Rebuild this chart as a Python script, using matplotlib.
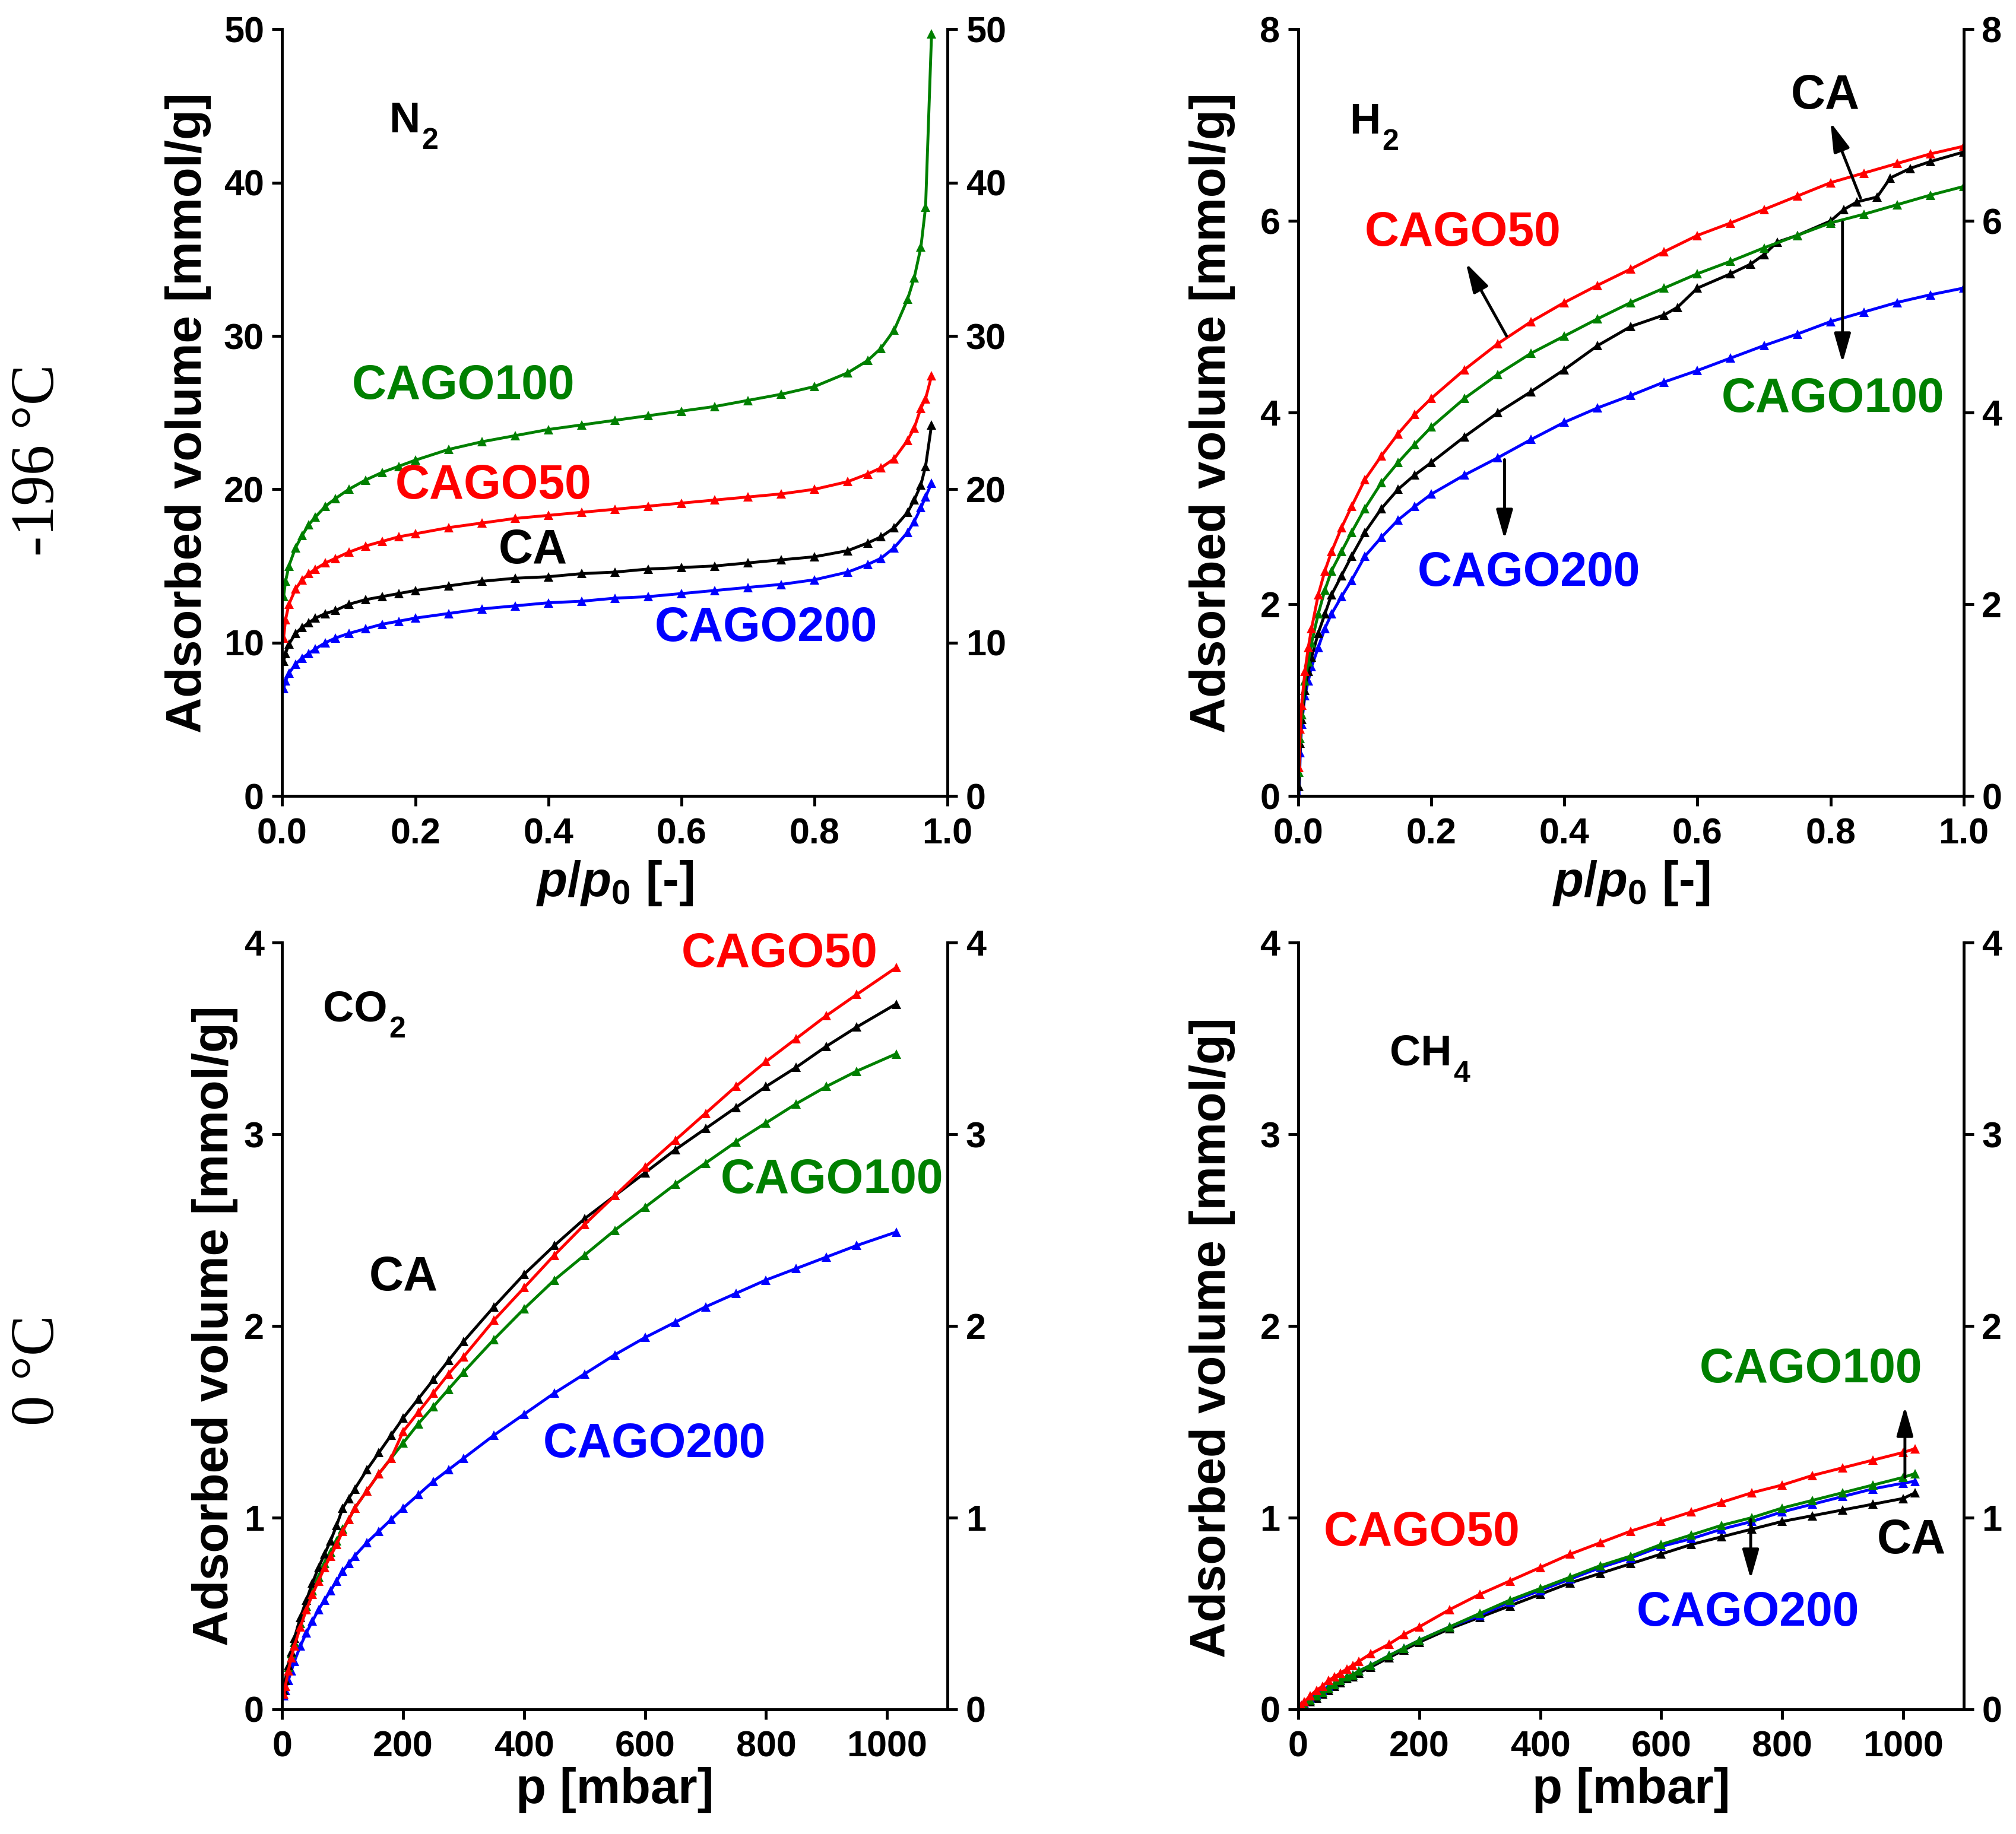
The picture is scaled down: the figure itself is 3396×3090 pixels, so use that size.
import numpy as np
import matplotlib
matplotlib.use('Agg')
import matplotlib.pyplot as plt

plt.rcParams['font.family'] = 'Liberation Sans'
plt.rcParams['font.weight'] = 'bold'
plt.rcParams['axes.labelweight'] = 'bold'
plt.rcParams['mathtext.fontset'] = 'custom'
plt.rcParams['mathtext.rm'] = 'Liberation Sans:bold'
plt.rcParams['mathtext.it'] = 'Liberation Sans:italic:bold'
plt.rcParams['mathtext.bf'] = 'Liberation Sans:bold'

GREEN = '#008000'
RED = '#ff0000'
BLACK = '#000000'
BLUE = '#0000ff'

# ---- N2, -196 C ----
n2_x = [0.002, 0.005, 0.01, 0.02, 0.03, 0.04, 0.05, 0.065, 0.08, 0.1, 0.125, 0.15, 0.175,
        0.2, 0.25, 0.3, 0.35, 0.4, 0.45, 0.5, 0.55, 0.6, 0.65, 0.7, 0.75, 0.8, 0.85,
        0.88, 0.9, 0.92, 0.94, 0.95, 0.96, 0.967, 0.976]
n2_cago100 = [13.0, 14.0, 15.0, 16.2, 17.0, 17.7, 18.2, 18.9, 19.4, 20.0, 20.6, 21.1, 21.5,
              21.9, 22.6, 23.1, 23.5, 23.9, 24.2, 24.5, 24.8, 25.1, 25.4, 25.8, 26.2, 26.7, 27.6,
              28.4, 29.2, 30.4, 32.4, 33.8, 35.8, 38.4, 49.7]
n2_cago50 = [10.3, 11.5, 12.5, 13.5, 14.1, 14.5, 14.8, 15.2, 15.5, 15.9, 16.3, 16.6, 16.9,
             17.1, 17.5, 17.8, 18.1, 18.3, 18.5, 18.7, 18.9, 19.1, 19.3, 19.5, 19.7, 20.0, 20.5,
             21.0, 21.4, 22.0, 23.2, 24.0, 25.3, 25.9, 27.4]
n2_ca = [8.8, 9.3, 9.9, 10.6, 11.0, 11.3, 11.6, 11.9, 12.1, 12.5, 12.8, 13.0, 13.2,
         13.4, 13.7, 14.0, 14.2, 14.3, 14.5, 14.6, 14.8, 14.9, 15.0, 15.2, 15.4, 15.6, 16.0,
         16.5, 16.9, 17.5, 18.5, 19.3, 20.3, 21.5, 24.2]
n2_cago200 = [7.0, 7.5, 8.0, 8.6, 9.0, 9.3, 9.6, 10.0, 10.3, 10.6, 10.9, 11.2, 11.4,
              11.6, 11.9, 12.2, 12.4, 12.6, 12.7, 12.9, 13.0, 13.2, 13.4, 13.6, 13.8, 14.1, 14.6,
              15.1, 15.5, 16.2, 17.2, 17.9, 18.8, 19.5, 20.4]

# ---- H2, -196 C ----
h2_x = [0.001, 0.003, 0.005, 0.01, 0.015, 0.02, 0.03, 0.04, 0.05, 0.065, 0.08, 0.1, 0.125,
        0.15, 0.175, 0.2, 0.25, 0.3, 0.35, 0.4, 0.45, 0.5, 0.55, 0.6, 0.65, 0.7, 0.75,
        0.8, 0.85, 0.9, 0.95, 1.0]
h2_cago50 = [0.3, 0.7, 0.95, 1.3, 1.55, 1.75, 2.1, 2.35, 2.55, 2.8, 3.02, 3.3, 3.55,
             3.78, 3.98, 4.15, 4.45, 4.72, 4.95, 5.15, 5.33, 5.5, 5.68, 5.85, 5.98, 6.12, 6.26,
             6.4, 6.5, 6.6, 6.7, 6.78]
h2_cago100 = [0.25, 0.6, 0.85, 1.2, 1.4, 1.6, 1.9, 2.15, 2.35, 2.55, 2.75, 3.0, 3.27,
              3.48, 3.67, 3.85, 4.15, 4.4, 4.62, 4.8, 4.98, 5.15, 5.3, 5.45, 5.58, 5.72, 5.85,
              5.98, 6.07, 6.17, 6.27, 6.36]
h2_cago200 = [0.0, 0.45, 0.75, 1.05, 1.2, 1.35, 1.55, 1.75, 1.9, 2.08, 2.25, 2.5, 2.7,
              2.88, 3.02, 3.15, 3.35, 3.53, 3.72, 3.9, 4.05, 4.18, 4.32, 4.44, 4.57, 4.7, 4.82,
              4.95, 5.05, 5.15, 5.23, 5.3]
h2_ca_x = [0.001, 0.003, 0.005, 0.01, 0.015, 0.02, 0.03, 0.04, 0.05, 0.065, 0.08, 0.1, 0.125,
           0.15, 0.175, 0.2, 0.25, 0.3, 0.35, 0.4, 0.45, 0.5, 0.55, 0.57, 0.6, 0.65, 0.68,
           0.7, 0.72, 0.75, 0.8, 0.82, 0.84, 0.87, 0.89, 0.92, 0.95, 1.0]
h2_ca = [0.1, 0.55, 0.8, 1.1, 1.3, 1.45, 1.7, 1.9, 2.1, 2.3, 2.5, 2.75, 3.0,
         3.2, 3.35, 3.48, 3.75, 4.0, 4.22, 4.45, 4.7, 4.9, 5.02, 5.1, 5.3, 5.45, 5.55,
         5.65, 5.78, 5.85, 6.0, 6.12, 6.2, 6.25, 6.45, 6.55, 6.62, 6.72]

# ---- CO2, 0 C ----
co2_p = [3, 5, 10, 15, 20, 30, 40, 50, 60, 70, 80, 90, 100, 110, 120, 140, 160, 180, 200,
         225, 250, 275, 300, 350, 400, 450, 500, 550, 600, 650, 700, 750, 800, 850, 900, 950, 1015]
co2_cago50 = [0.08, 0.12, 0.2, 0.27, 0.33, 0.43, 0.52, 0.6, 0.67, 0.74, 0.8, 0.86, 0.93, 0.99,
              1.05, 1.14, 1.23, 1.31, 1.45, 1.55, 1.65, 1.75, 1.84, 2.03, 2.2, 2.37, 2.53, 2.68,
              2.83, 2.97, 3.11, 3.25, 3.38, 3.5, 3.62, 3.73, 3.87]
co2_ca = [0.1, 0.15, 0.23, 0.3, 0.37, 0.48, 0.57, 0.66, 0.74, 0.81, 0.88, 0.96, 1.05, 1.1,
          1.15, 1.25, 1.34, 1.43, 1.52, 1.62, 1.72, 1.82, 1.92, 2.1, 2.27, 2.42, 2.56, 2.68,
          2.8, 2.92, 3.03, 3.14, 3.25, 3.35, 3.46, 3.56, 3.68]
co2_cago100 = [0.1, 0.15, 0.22, 0.29, 0.35, 0.45, 0.54, 0.62, 0.69, 0.76, 0.82, 0.88, 0.94, 0.99,
               1.05, 1.14, 1.23, 1.31, 1.39, 1.49, 1.58, 1.67, 1.76, 1.93, 2.09, 2.24, 2.37, 2.5,
               2.62, 2.74, 2.85, 2.96, 3.06, 3.16, 3.25, 3.33, 3.42]
co2_cago200 = [0.07, 0.1, 0.15, 0.2, 0.25, 0.33, 0.4, 0.46, 0.52, 0.57, 0.62, 0.67, 0.72, 0.76,
               0.8, 0.87, 0.93, 0.99, 1.05, 1.12, 1.19, 1.25, 1.31, 1.43, 1.54, 1.65, 1.75, 1.85,
               1.94, 2.02, 2.1, 2.17, 2.24, 2.3, 2.36, 2.42, 2.49]

# ---- CH4, 0 C ----
ch4_p = [5, 10, 20, 30, 40, 50, 60, 70, 80, 90, 100, 120, 150, 175, 200, 250, 300, 350, 400,
         450, 500, 550, 600, 650, 700, 750, 800, 850, 900, 950, 1000, 1020]
ch4_cago50 = [0.02, 0.04, 0.07, 0.1, 0.12, 0.15, 0.17, 0.19, 0.21, 0.23, 0.25, 0.29, 0.34, 0.39,
              0.43, 0.52, 0.6, 0.67, 0.74, 0.81, 0.87, 0.93, 0.98, 1.03, 1.08, 1.13, 1.17, 1.22,
              1.26, 1.3, 1.34, 1.36]
ch4_cago100 = [0.01, 0.02, 0.05, 0.07, 0.09, 0.11, 0.13, 0.15, 0.17, 0.18, 0.2, 0.23, 0.28, 0.32,
               0.36, 0.43, 0.5, 0.57, 0.63, 0.69, 0.75, 0.8, 0.86, 0.91, 0.96, 1.0, 1.05, 1.09,
               1.13, 1.17, 1.21, 1.23]
ch4_cago200 = [0.02, 0.03, 0.06, 0.08, 0.1, 0.12, 0.13, 0.15, 0.17, 0.18, 0.2, 0.23, 0.28, 0.32,
               0.36, 0.43, 0.49, 0.56, 0.62, 0.68, 0.74, 0.79, 0.85, 0.89, 0.94, 0.98, 1.03, 1.07,
               1.11, 1.15, 1.18, 1.19]
ch4_ca = [0.0, 0.01, 0.04, 0.06, 0.08, 0.1, 0.12, 0.14, 0.16, 0.17, 0.19, 0.22, 0.27, 0.31,
          0.35, 0.42, 0.48, 0.54, 0.6, 0.66, 0.71, 0.76, 0.81, 0.86, 0.9, 0.94, 0.98, 1.01,
          1.04, 1.07, 1.1, 1.13]

ylabel = 'Adsorbed volume [mmol/g]'


def curve(ax, x, y, color):
    ax.plot(x, y, '-^', color=color, lw=3.5, ms=12, mew=0)


def style(ax, xlim, xticks, xticklabels, ylim, yticks, xlabel, ylab_xy, xlab_y):
    ax.set_xlim(*xlim)
    ax.set_ylim(*ylim)
    ax.set_xticks(xticks)
    ax.set_xticklabels(xticklabels)
    ax.set_yticks(yticks)
    ax.set_yticklabels([str(v) for v in yticks])
    ax.spines['top'].set_visible(False)
    for s in ['left', 'right', 'bottom']:
        ax.spines[s].set_linewidth(3.5)
    ax.tick_params(axis='both', direction='out', length=12, width=3.5, labelsize=44)
    ax.tick_params(axis='x', pad=14)
    ax.tick_params(axis='y', pad=10, right=True, labelright=True)
    ax.set_ylabel(ylabel, fontsize=60, fontweight='bold')
    ax.yaxis.set_label_position('left')
    ax.yaxis.set_label_coords(*ylab_xy)
    ax.set_xlabel(xlabel, fontsize=60, fontweight='bold')
    ax.xaxis.set_label_coords(0.5, xlab_y)


def gas(ax, x, y, base, sub):
    # formula with a lowered subscript, as in the original figure
    t = ax.text(x, y, base, fontsize=52, va='center')
    ax.annotate(sub, xy=(1.0, 0.0), xycoords=t, fontsize=36,
                va='center', ha='left', xytext=(2, 0), textcoords='offset points')


def arrow(ax, tail, head):
    ax.annotate('', xy=head, xytext=tail,
                arrowprops=dict(arrowstyle='-|>,head_length=0.6,head_width=0.17',
                                color='k', lw=3.5, mutation_scale=50,
                                shrinkA=0, shrinkB=0))


fig = plt.figure(figsize=(33.96, 30.90), dpi=100)
ax1 = fig.add_axes([0.140, 0.566, 0.330, 0.418])
ax2 = fig.add_axes([0.644, 0.566, 0.330, 0.418])
ax3 = fig.add_axes([0.140, 0.068, 0.330, 0.418])
ax4 = fig.add_axes([0.644, 0.068, 0.330, 0.418])

rel_ticks = [0.0, 0.2, 0.4, 0.6, 0.8, 1.0]
rel_labels = ['%.1f' % v for v in rel_ticks]
p_ticks = [0, 200, 400, 600, 800, 1000]
p_labels = [str(v) for v in p_ticks]
rel_xlabel = r'$\mathit{p/p_0}$ [-]'
p_xlabel = 'p [mbar]'

# N2
curve(ax1, n2_x, n2_cago200, BLUE)
curve(ax1, n2_x, n2_ca, BLACK)
curve(ax1, n2_x, n2_cago50, RED)
curve(ax1, n2_x, n2_cago100, GREEN)
style(ax1, (0, 1.0), rel_ticks, rel_labels, (0, 50), [0, 10, 20, 30, 40, 50],
      rel_xlabel, (-0.107, 0.5), -0.082)
gas(ax1, 0.16, 44, 'N', '2')
ax1.text(0.105, 26.7, 'CAGO100', color=GREEN, fontsize=58, va='center')
ax1.text(0.17, 20.2, 'CAGO50', color=RED, fontsize=58, va='center')
ax1.text(0.325, 16.0, 'CA', color=BLACK, fontsize=58, va='center')
ax1.text(0.56, 10.9, 'CAGO200', color=BLUE, fontsize=58, va='center')

# H2
curve(ax2, h2_x, h2_cago200, BLUE)
curve(ax2, h2_ca_x, h2_ca, BLACK)
curve(ax2, h2_x, h2_cago100, GREEN)
curve(ax2, h2_x, h2_cago50, RED)
style(ax2, (0, 1.0), rel_ticks, rel_labels, (0, 8), [0, 2, 4, 6, 8],
      rel_xlabel, (-0.095, 0.5), -0.082)
gas(ax2, 0.077, 7.03, 'H', '2')
ax2.text(0.74, 7.3, 'CA', color=BLACK, fontsize=58, va='center')
ax2.text(0.10, 5.87, 'CAGO50', color=RED, fontsize=58, va='center')
ax2.text(0.636, 4.14, 'CAGO100', color=GREEN, fontsize=58, va='center')
ax2.text(0.179, 2.32, 'CAGO200', color=BLUE, fontsize=58, va='center')
arrow(ax2, (0.845, 6.24), (0.80, 7.03))
arrow(ax2, (0.313, 4.8), (0.252, 5.56))
arrow(ax2, (0.818, 5.99), (0.818, 4.52))
arrow(ax2, (0.31, 3.51), (0.31, 2.68))

# CO2
curve(ax3, co2_p, co2_cago200, BLUE)
curve(ax3, co2_p, co2_cago100, GREEN)
curve(ax3, co2_p, co2_ca, BLACK)
curve(ax3, co2_p, co2_cago50, RED)
style(ax3, (0, 1100), p_ticks, p_labels, (0, 4), [0, 1, 2, 3, 4],
      p_xlabel, (-0.066, 0.5), -0.075)
gas(ax3, 67, 3.65, 'CO', '2')
ax3.text(660, 3.94, 'CAGO50', color=RED, fontsize=58, va='center')
ax3.text(144, 2.25, 'CA', color=BLACK, fontsize=58, va='center')
ax3.text(725, 2.76, 'CAGO100', color=GREEN, fontsize=58, va='center')
ax3.text(431, 1.38, 'CAGO200', color=BLUE, fontsize=58, va='center')

# CH4
curve(ax4, ch4_p, ch4_ca, BLACK)
curve(ax4, ch4_p, ch4_cago200, BLUE)
curve(ax4, ch4_p, ch4_cago100, GREEN)
curve(ax4, ch4_p, ch4_cago50, RED)
style(ax4, (0, 1100), p_ticks, p_labels, (0, 4), [0, 1, 2, 3, 4],
      p_xlabel, (-0.095, 0.485), -0.075)
gas(ax4, 151, 3.42, 'CH', '4')
ax4.text(42, 0.92, 'CAGO50', color=RED, fontsize=58, va='center')
ax4.text(663, 1.77, 'CAGO100', color=GREEN, fontsize=58, va='center')
ax4.text(957, 0.88, 'CA', color=BLACK, fontsize=58, va='center')
ax4.text(559, 0.50, 'CAGO200', color=BLUE, fontsize=58, va='center')
arrow(ax4, (1003, 1.21), (1003, 1.58))
arrow(ax4, (748, 0.99), (748, 0.68))

# row labels
fig.text(0.019, 0.749, '-196 \u00b0C', rotation=90, fontfamily='Liberation Serif',
         fontweight='normal', fontsize=74, ha='center', va='center')
fig.text(0.019, 0.253, '0 \u00b0C', rotation=90, fontfamily='Liberation Serif',
         fontweight='normal', fontsize=74, ha='center', va='center')

fig.savefig('out.png', dpi=100)
